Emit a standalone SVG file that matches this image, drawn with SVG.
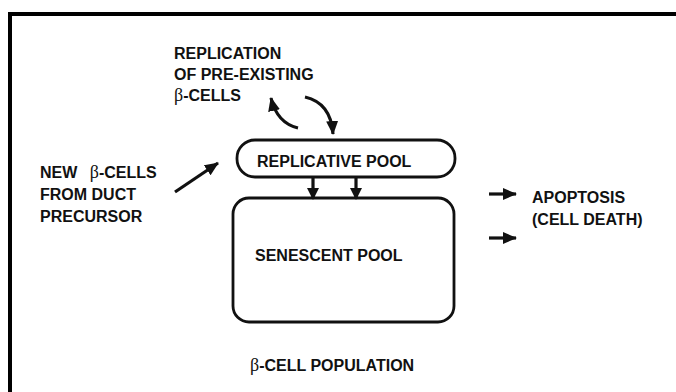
<svg xmlns="http://www.w3.org/2000/svg" width="676" height="392" viewBox="0 0 676 392">
  <style>
    .lbl { font-family: "Liberation Sans", Arial, sans-serif; font-weight: bold; font-size: 16px; fill: #111; }
    .beta { font-family: "Liberation Serif", "Times New Roman", serif; font-weight: normal; font-size: 18px; }
    .pool { fill: #fff; stroke: #111; stroke-width: 2.8; }
    .conn { fill: none; stroke: #111; stroke-width: 3.2; }
  </style>
  <defs>
    <marker id="head" viewBox="0 0 14 12" refX="13" refY="6" markerWidth="14" markerHeight="12" markerUnits="userSpaceOnUse" orient="auto">
      <path d="M0,0 L14,6 L0,12 Z" fill="#111"/>
    </marker>
    <marker id="headSmall" viewBox="0 0 12 12" refX="11" refY="6" markerWidth="12" markerHeight="12" markerUnits="userSpaceOnUse" orient="auto">
      <path d="M0,0 L12,6 L0,12 Z" fill="#111"/>
    </marker>
  </defs>

  <rect width="676" height="392" fill="#fff"/>

  <!-- outer frame (left and top edges) -->
  <path d="M10,392 V14 H676" fill="none" stroke="#000" stroke-width="4"/>

  <g id="replication-source">
    <text class="lbl" x="174" y="59">REPLICATION</text>
    <text class="lbl" x="174" y="80">OF PRE-EXISTING</text>
    <text class="lbl" x="174" y="101"><tspan class="beta">β</tspan>-CELLS</text>
  </g>

  <g id="duct-source">
    <text class="lbl" x="40" y="178">NEW <tspan class="beta" dx="8">β</tspan>-CELLS</text>
    <text class="lbl" x="40" y="200">FROM DUCT</text>
    <text class="lbl" x="40" y="222">PRECURSOR</text>
  </g>

  <g id="replicative-pool">
    <rect class="pool" x="237" y="140" width="218" height="37" rx="18" ry="18"/>
    <text class="lbl" x="257" y="167">REPLICATIVE POOL</text>
  </g>

  <g id="senescent-pool">
    <rect class="pool" x="233" y="198" width="221" height="124" rx="16" ry="16"/>
    <text class="lbl" x="255" y="261">SENESCENT POOL</text>
  </g>

  <g id="apoptosis">
    <text class="lbl" x="532" y="203">APOPTOSIS</text>
    <text class="lbl" x="532" y="225">(CELL DEATH)</text>
  </g>

  <g id="population-label">
    <text class="lbl" x="250" y="371"><tspan class="beta">β</tspan>-CELL POPULATION</text>
  </g>

  <g id="connectors">
    <!-- replication cycle -->
    <path class="conn" d="M298,128 Q277,123 271,98" marker-end="url(#head)"/>
    <path class="conn" d="M305,97 Q331,103 333,134" marker-end="url(#head)"/>
    <!-- duct precursor feed -->
    <path class="conn" stroke-width="2.8" d="M175,192 L218,163" marker-end="url(#head)"/>
    <!-- replicative to senescent -->
    <path class="conn" stroke-width="2.2" d="M313,178 V199" marker-end="url(#headSmall)"/>
    <path class="conn" stroke-width="2.2" d="M356,178 V199" marker-end="url(#headSmall)"/>
    <!-- loss by apoptosis -->
    <path class="conn" d="M489,194 H516" marker-end="url(#head)"/>
    <path class="conn" d="M489,238 H516" marker-end="url(#head)"/>
  </g>
</svg>
